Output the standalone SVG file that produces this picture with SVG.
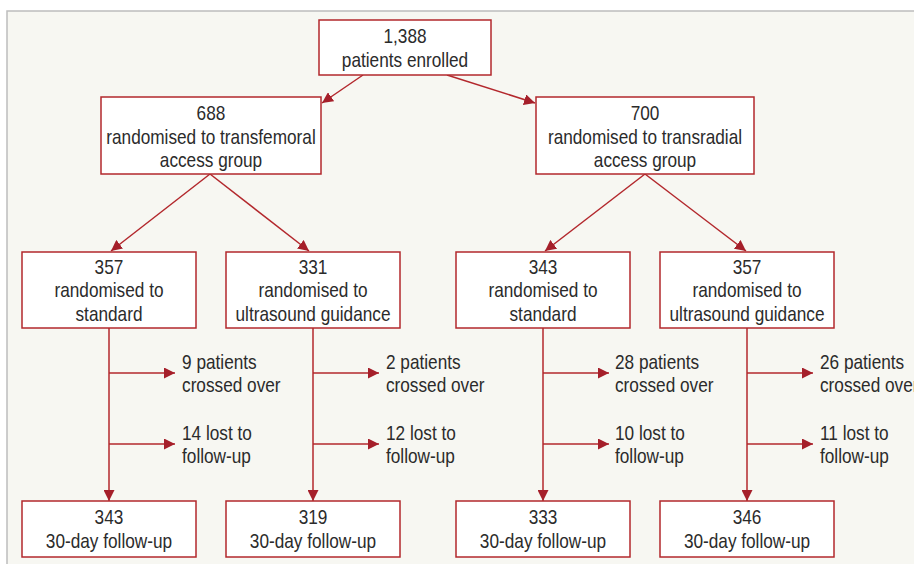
<svg xmlns="http://www.w3.org/2000/svg" width="914" height="564" viewBox="0 0 914 564">
<defs>
<style>
.bx{fill:#fff;stroke:#b3282d;stroke-width:1.5}
.t{font-family:"Liberation Sans",Arial,sans-serif;font-size:21px;fill:#2b2b2b}
.c{text-anchor:middle}
.ln{stroke:#b3282d;stroke-width:1.5;fill:none;marker-end:url(#ah)}
</style>
<marker id="ah" viewBox="0 0 10 10" refX="10" refY="5" markerWidth="11" markerHeight="11" markerUnits="userSpaceOnUse" orient="auto">
<path d="M0,0 L10,5 L0,10 Z" fill="#a51f2a"/>
</marker>
</defs>
<rect x="7" y="11" width="920" height="560" fill="#f7f7f2" stroke="#bdbdbd" stroke-width="1.5"/>
<g id="connectors">
<line class="ln" x1="363" y1="75" x2="322" y2="103"/>
<line class="ln" x1="447" y1="75" x2="535" y2="103"/>
<line class="ln" x1="210" y1="174" x2="111" y2="251"/>
<line class="ln" x1="210" y1="174" x2="309" y2="251"/>
<line class="ln" x1="645" y1="174" x2="545" y2="251"/>
<line class="ln" x1="645" y1="174" x2="746" y2="251"/>
<line class="ln" x1="109" y1="328" x2="109" y2="501"/>
<line class="ln" x1="313" y1="328" x2="313" y2="501"/>
<line class="ln" x1="543" y1="328" x2="543" y2="501"/>
<line class="ln" x1="747" y1="328" x2="747" y2="501"/>
<line class="ln" x1="109" y1="373" x2="175" y2="373"/>
<line class="ln" x1="109" y1="444" x2="175" y2="444"/>
<line class="ln" x1="313" y1="373" x2="379" y2="373"/>
<line class="ln" x1="313" y1="444" x2="379" y2="444"/>
<line class="ln" x1="543" y1="373" x2="609" y2="373"/>
<line class="ln" x1="543" y1="444" x2="609" y2="444"/>
<line class="ln" x1="747" y1="373" x2="813" y2="373"/>
<line class="ln" x1="747" y1="444" x2="813" y2="444"/>
</g>
<g id="n-enrolled"><rect class="bx" x="319" y="20" width="172" height="55"/><g transform="scale(0.82,1)"><text class="t c" x="493.9" y="43">1,388</text><text class="t c" x="493.9" y="67">patients enrolled</text></g></g>
<g id="n-tf"><rect class="bx" x="101" y="97" width="220" height="77"/><g transform="scale(0.82,1)"><text class="t c" x="257.3" y="120">688</text><text class="t c" x="257.3" y="144">randomised to transfemoral</text><text class="t c" x="257.3" y="167">access group</text></g></g>
<g id="n-tr"><rect class="bx" x="536" y="97" width="218" height="77"/><g transform="scale(0.82,1)"><text class="t c" x="786.6" y="120">700</text><text class="t c" x="786.6" y="144">randomised to transradial</text><text class="t c" x="786.6" y="167">access group</text></g></g>
<g id="n-tf-std"><rect class="bx" x="22" y="252" width="174" height="76"/><g transform="scale(0.82,1)"><text class="t c" x="132.9" y="274">357</text><text class="t c" x="132.9" y="297">randomised to</text><text class="t c" x="132.9" y="321">standard</text></g></g>
<g id="n-tf-us"><rect class="bx" x="226" y="252" width="174" height="76"/><g transform="scale(0.82,1)"><text class="t c" x="381.7" y="274">331</text><text class="t c" x="381.7" y="297">randomised to</text><text class="t c" x="381.7" y="321">ultrasound guidance</text></g></g>
<g id="n-tr-std"><rect class="bx" x="456" y="252" width="174" height="76"/><g transform="scale(0.82,1)"><text class="t c" x="662.2" y="274">343</text><text class="t c" x="662.2" y="297">randomised to</text><text class="t c" x="662.2" y="321">standard</text></g></g>
<g id="n-tr-us"><rect class="bx" x="660" y="252" width="174" height="76"/><g transform="scale(0.82,1)"><text class="t c" x="911" y="274">357</text><text class="t c" x="911" y="297">randomised to</text><text class="t c" x="911" y="321">ultrasound guidance</text></g></g>
<g id="l1" transform="scale(0.82,1)"><text class="t" x="222" y="369">9 patients</text><text class="t" x="222" y="392">crossed over</text><text class="t" x="222" y="440">14 lost to</text><text class="t" x="222" y="463">follow-up</text></g>
<g id="l2" transform="scale(0.82,1)"><text class="t" x="470.7" y="369">2 patients</text><text class="t" x="470.7" y="392">crossed over</text><text class="t" x="470.7" y="440">12 lost to</text><text class="t" x="470.7" y="463">follow-up</text></g>
<g id="l3" transform="scale(0.82,1)"><text class="t" x="750" y="369">28 patients</text><text class="t" x="750" y="392">crossed over</text><text class="t" x="750" y="440">10 lost to</text><text class="t" x="750" y="463">follow-up</text></g>
<g id="l4" transform="scale(0.82,1)"><text class="t" x="1000" y="369">26 patients</text><text class="t" x="1000" y="392">crossed over</text><text class="t" x="1000" y="440">11 lost to</text><text class="t" x="1000" y="463">follow-up</text></g>
<g id="n-f1"><rect class="bx" x="22" y="501" width="174" height="56"/><g transform="scale(0.82,1)"><text class="t c" x="132.9" y="524">343</text><text class="t c" x="132.9" y="548">30-day follow-up</text></g></g>
<g id="n-f2"><rect class="bx" x="226" y="501" width="174" height="56"/><g transform="scale(0.82,1)"><text class="t c" x="381.7" y="524">319</text><text class="t c" x="381.7" y="548">30-day follow-up</text></g></g>
<g id="n-f3"><rect class="bx" x="456" y="501" width="174" height="56"/><g transform="scale(0.82,1)"><text class="t c" x="662.2" y="524">333</text><text class="t c" x="662.2" y="548">30-day follow-up</text></g></g>
<g id="n-f4"><rect class="bx" x="660" y="501" width="174" height="56"/><g transform="scale(0.82,1)"><text class="t c" x="911" y="524">346</text><text class="t c" x="911" y="548">30-day follow-up</text></g></g>
</svg>
